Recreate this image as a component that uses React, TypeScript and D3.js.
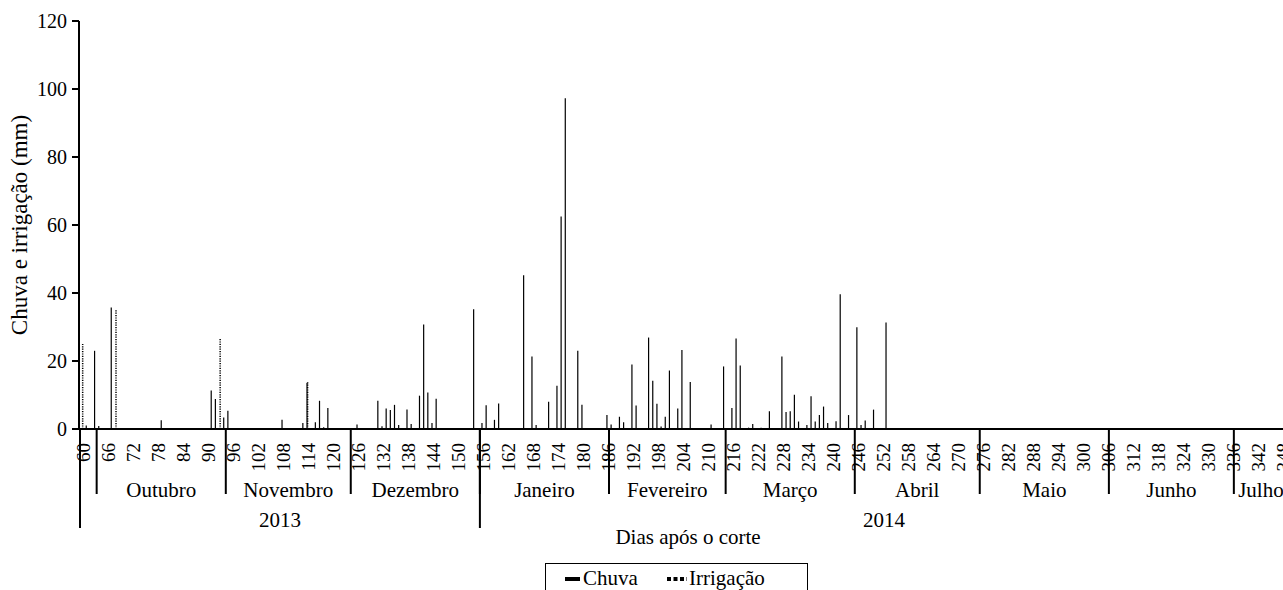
import React from "react";
import * as d3 from "d3";

const chuvaDays = [61,63,64,67,79,91,92,94,95,108,113,114,116,117,118,119,126,131,132,133,134,135,136,138,139,141,142,143,144,145,154,156,157,159,160,166,168,169,172,174,175,176,179,180,186,187,189,190,192,193,196,197,198,199,200,201,203,204,205,206,211,214,216,217,218,220,221,223,225,228,229,230,231,232,234,235,236,237,238,239,241,242,244,246,247,248,250,253];
const chuvaValues = [1.0,23.0,0.9,35.7,2.6,11.3,8.8,3.4,5.4,2.7,1.8,13.5,2.0,8.3,0.5,6.2,1.3,8.3,0.8,6.0,5.6,7.1,1.2,5.7,1.5,9.8,30.7,10.7,1.8,8.9,35.2,1.8,7.0,2.7,7.5,45.2,21.3,1.2,8.0,12.7,62.5,97.3,23.0,7.1,4.1,1.3,3.6,2.0,19.0,6.9,26.9,14.2,7.4,0.7,3.6,17.2,6.0,23.2,0.3,13.8,1.3,18.4,6.2,26.6,18.7,0.4,1.5,0.4,5.2,21.3,5.0,5.2,10.1,2.2,1.2,9.6,2.2,4.1,6.6,1.8,2.3,39.6,4.1,29.9,1.2,2.5,5.7,31.3];
const irrigDays = [60, 68, 93, 114];
const irrigValues = [25, 35.2, 26.8, 14];

const firstDay = 60;
const lastDay = 349;
const tickStep = 6;
const yTicks = [0, 20, 40, 60, 80, 100, 120];

const months = ["Outubro","Novembro","Dezembro","Janeiro","Fevereiro","Março","Abril","Maio","Junho","Julho"];
const monthStart = [64, 95, 125, 156, 187, 215, 246, 276, 307, 337];
const years = ["2013", "2014"];
const yearStart = [60, 156];

const FONT = "'Liberation Serif', 'Times New Roman', serif";

export default function App() {
  const W = 1283, H = 590;
  const days = d3.range(firstDay, lastDay + 1);
  const x = d3.scaleBand<number>().domain(days).range([80, 1288]).padding(0);
  const y = d3.scaleLinear().domain([0, 120]).range([429, 21]);
  const bw = x.bandwidth();
  const cx = (d: number) => (x(d) as number) + bw / 2;
  const left = (d: number) => x(d) as number;
  const xEnd = 1288;
  const axisY = y(0);

  const tickDays = days.filter((d) => (d - firstDay) % tickStep === 0);

  const monthBounds = monthStart.map((s, i) => {
    const a = left(s);
    const b = i + 1 < monthStart.length ? left(monthStart[i + 1]) : xEnd;
    return { a, b, name: months[i] };
  });
  const yearBounds = yearStart.map((s, i) => {
    const a = left(s);
    const b = i + 1 < yearStart.length ? left(yearStart[i + 1]) : xEnd;
    return { a, b, name: years[i] };
  });

  return (
    <svg width={W} height={H} fontFamily={FONT} style={{ position: "absolute", left: 0, top: 0, background: "#fff" }}>
      <rect x={0} y={0} width={W} height={H} fill="#fff" />
      {/* y axis */}
      <line x1={79} x2={79} y1={y(120)} y2={axisY} stroke="#000" strokeWidth={2} />
      {yTicks.map((t) => (
        <g key={t}>
          <line x1={72} x2={79} y1={y(t)} y2={y(t)} stroke="#000" strokeWidth={2} />
          <text x={67} y={y(t)} dy="0.34em" textAnchor="end" fontSize={20} fill="#000">{t}</text>
        </g>
      ))}
      <text transform={`translate(27,${(y(0) + y(120)) / 2}) rotate(-90)`} textAnchor="middle" fontSize={23} fill="#000">
        Chuva e irrigação (mm)
      </text>

      {/* bars */}
      {chuvaDays.map((d, i) => (
        <line key={"c" + d} x1={cx(d)} x2={cx(d)} y1={axisY} y2={y(chuvaValues[i])} stroke="#000" strokeWidth={1.2} />
      ))}
      {irrigDays.map((d, i) => (
        <line key={"i" + d} x1={cx(d) + 0.6} x2={cx(d) + 0.6} y1={axisY} y2={y(irrigValues[i])} stroke="#000" strokeWidth={1.5} strokeDasharray="1.2,1.2" />
      ))}

      {/* x axis */}
      <line x1={79} x2={W} y1={axisY} y2={axisY} stroke="#000" strokeWidth={2} />
      {tickDays.map((d) => (
        <text key={d} transform={`translate(${cx(d) + 1.5},443) rotate(-90)`} textAnchor="end" dy="0.34em" fontSize={19} fill="#000">{d}</text>
      ))}
      {monthBounds.map((m) => (
        <g key={m.name}>
          <line x1={m.a} x2={m.a} y1={axisY} y2={494} stroke="#000" strokeWidth={2} />
          <text x={(m.a + m.b) / 2} y={497} textAnchor="middle" fontSize={21} fill="#000">{m.name}</text>
        </g>
      ))}
      {yearBounds.map((m) => (
        <g key={m.name}>
          <line x1={m.a} x2={m.a} y1={axisY} y2={528} stroke="#000" strokeWidth={2} />
          <text x={(m.a + m.b) / 2} y={527} textAnchor="middle" fontSize={21} fill="#000">{m.name}</text>
        </g>
      ))}
      <text x={688} y={544} textAnchor="middle" fontSize={21} fill="#000">Dias após o corte</text>

      {/* legend */}
      <rect x={545.5} y={563.5} width={262} height={40} fill="#fff" stroke="#000" strokeWidth={1} />
      <line x1={565} x2={580} y1={579} y2={579} stroke="#000" strokeWidth={4} />
      <text x={583} y={585} fontSize={21} fill="#000">Chuva</text>
      <line x1={667} x2={687} y1={579} y2={579} stroke="#000" strokeWidth={4} strokeDasharray="4,2.5" />
      <text x={689} y={585} fontSize={21} fill="#000">Irrigação</text>
    </svg>
  );
}
